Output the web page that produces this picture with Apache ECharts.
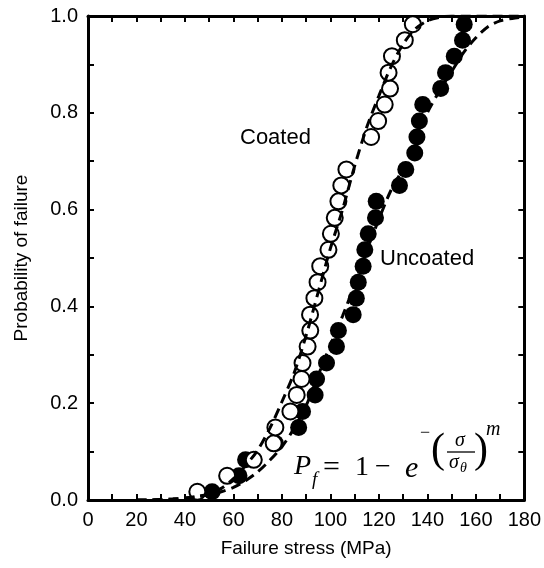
<!DOCTYPE html>
<html>
<head>
<meta charset="utf-8">
<script src="https://cdn.jsdelivr.net/npm/echarts@6/dist/echarts.min.js"></script>
<style>html,body{margin:0;padding:0;background:#fff}#c{width:544px;height:568px}</style>
</head>
<body>
<div id="c"></div>
<script>
// Coated specimens (open circles)
const coatedStress = [45.1, 57.4, 68.4, 76.6, 77.3, 83.5, 86.1, 88.1, 88.5, 90.6, 91.7, 91.6, 93.4, 94.7, 95.8, 99.2, 100.2, 101.8, 103.3, 104.5, 106.6, 116.8, 119.7, 122.4, 124.6, 124.0, 125.4, 130.7, 134.0];
const coatedProb   = [0.017, 0.050, 0.083, 0.117, 0.150, 0.183, 0.217, 0.250, 0.283, 0.317, 0.350, 0.383, 0.417, 0.450, 0.483, 0.517, 0.550, 0.583, 0.617, 0.650, 0.683, 0.750, 0.783, 0.817, 0.850, 0.883, 0.917, 0.950, 0.983];
// Uncoated specimens (filled circles)
const uncoatedStress = [51.2, 62.3, 65.0, 77.3, 86.9, 88.5, 93.7, 94.3, 98.4, 102.5, 103.3, 109.4, 110.7, 111.5, 113.5, 114.2, 115.6, 118.6, 118.9, 128.5, 131.1, 134.8, 135.7, 136.7, 138.1, 145.5, 147.5, 151.1, 154.5, 155.2];
const uncoatedProb   = [0.017, 0.050, 0.083, 0.117, 0.150, 0.183, 0.217, 0.250, 0.283, 0.317, 0.350, 0.383, 0.417, 0.450, 0.483, 0.517, 0.550, 0.583, 0.617, 0.650, 0.683, 0.717, 0.750, 0.783, 0.817, 0.850, 0.883, 0.917, 0.950, 0.983];
// Dashed Weibull fit curves
const fitStress   = [20, 25, 30, 35, 40, 45, 50, 55, 60, 65, 70, 75, 80, 85, 90, 95, 100, 105, 110, 115, 120, 125, 130, 135, 140, 145, 150, 155, 160, 165, 170, 175, 180];
const coatedFit   = [0.000, 0.000, 0.001, 0.002, 0.004, 0.007, 0.013, 0.024, 0.044, 0.071, 0.103, 0.148, 0.203, 0.262, 0.340, 0.430, 0.520, 0.600, 0.690, 0.770, 0.835, 0.895, 0.942, 0.973, 0.990, 0.997, 1.000, 1.000, 1.000, 1.000, 1.000, 1.000, 1.000];
const uncoatedFit = [0.000, 0.000, 0.001, 0.002, 0.004, 0.007, 0.011, 0.017, 0.026, 0.040, 0.058, 0.082, 0.110, 0.148, 0.195, 0.258, 0.320, 0.380, 0.445, 0.515, 0.580, 0.640, 0.685, 0.740, 0.800, 0.845, 0.885, 0.925, 0.955, 0.978, 0.990, 0.995, 0.998];
// Axis ticks
const xTicks = [0, 20, 40, 60, 80, 100, 120, 140, 160, 180];
const yTicks = [0.0, 0.2, 0.4, 0.6, 0.8, 1.0];

const zip = (a, b) => a.map((v, i) => [v, b[i]]);
const FONT = 'Liberation Sans';

const axisLine = {show: true, onZero: false, lineStyle: {color: '#000', width: 3}};
const axisTick = {show: true, inside: true, length: 6, lineStyle: {color: '#000', width: 2}};
const serif = (size, italic) => (italic ? 'italic ' : '') + size + 'px "Liberation Serif"';
const t = (text, x, y, size, italic, extra) => ({type: 'text', x, y, z: 10,
  style: Object.assign({text, font: serif(size, italic), fill: '#000', verticalAlign: 'middle'}, extra || {})});

const chart = echarts.init(document.getElementById('c'), null, {renderer: 'canvas'});
chart.setOption({
  animation: false,
  backgroundColor: '#fff',
  grid: {left: 88, right: 17, top: 16, bottom: 68, containLabel: false},
  xAxis: [{
    type: 'value', min: 0, max: 180, interval: 10, position: 'bottom',
    axisLine, axisTick, splitLine: {show: false},
    axisLabel: {color: '#000', fontFamily: FONT, fontSize: 20, margin: 10,
      formatter: v => xTicks.includes(v) ? String(v) : ''},
    name: 'Failure stress (MPa)', nameLocation: 'middle', nameGap: 39,
    nameTextStyle: {color: '#000', fontFamily: FONT, fontSize: 19}
  }, {
    type: 'value', min: 0, max: 180, interval: 10, position: 'top',
    axisLine, axisTick, splitLine: {show: false}, axisLabel: {show: false}
  }],
  yAxis: [{
    type: 'value', min: 0, max: 1, interval: 0.1, position: 'left',
    axisLine, axisTick, splitLine: {show: false},
    axisLabel: {color: '#000', fontFamily: FONT, fontSize: 20, margin: 10,
      formatter: v => yTicks.some(tk => Math.abs(tk - v) < 1e-6) ? v.toFixed(1) : ''},
    name: 'Probability of failure', nameLocation: 'middle', nameGap: 57, nameRotate: 90,
    nameTextStyle: {color: '#000', fontFamily: FONT, fontSize: 19}
  }, {
    type: 'value', min: 0, max: 1, interval: 0.1, position: 'right',
    axisLine, axisTick, splitLine: {show: false}, axisLabel: {show: false}
  }],
  series: [{
    name: 'Uncoated', type: 'scatter', data: zip(uncoatedStress, uncoatedProb),
    symbol: 'circle', symbolSize: 17, z: 2,
    itemStyle: {color: '#000', borderColor: '#000', borderWidth: 0, opacity: 1}
  }, {
    name: 'Coated', type: 'scatter', data: zip(coatedStress, coatedProb),
    symbol: 'circle', symbolSize: 16, z: 3,
    itemStyle: {color: '#fff', borderColor: '#000', borderWidth: 2, opacity: 1}
  }, {
    name: 'Coated fit', type: 'line', data: zip(fitStress, coatedFit), smooth: 0.3,
    showSymbol: false, z: 4, lineStyle: {color: '#000', width: 3, type: [10, 6]}
  }, {
    name: 'Uncoated fit', type: 'line', data: zip(fitStress, uncoatedFit), smooth: 0.3,
    showSymbol: false, z: 4, lineStyle: {color: '#000', width: 3, type: [10, 6]}
  }],
  graphic: [
    {type: 'text', left: 240, top: 127, style: {text: 'Coated', font: '22px "Liberation Sans"', fill: '#000'}},
    {type: 'text', left: 380, top: 248, style: {text: 'Uncoated', font: '22px "Liberation Sans"', fill: '#000'}},
    t('P', 294, 467, 28, true),
    t('f', 312, 480, 19, true),
    t('=', 323, 468, 30, false),
    t('1', 355, 468, 28, false),
    t('−', 375, 468, 28, false),
    t('e', 405, 469, 30, true),
    t('−', 420, 433, 18, false),
    t('(', 431, 451, 42, false),
    t('σ', 460, 441, 20, true, {align: 'center'}),
    {type: 'line', z: 10, shape: {x1: 447, y1: 452, x2: 475, y2: 452}, style: {stroke: '#000', lineWidth: 1.3}},
    t('σ', 449, 463, 20, true),
    t('θ', 460, 468, 14, true),
    t(')', 474, 451, 42, false),
    t('m', 486, 430, 20, true)
  ]
});
</script>
</body>
</html>
